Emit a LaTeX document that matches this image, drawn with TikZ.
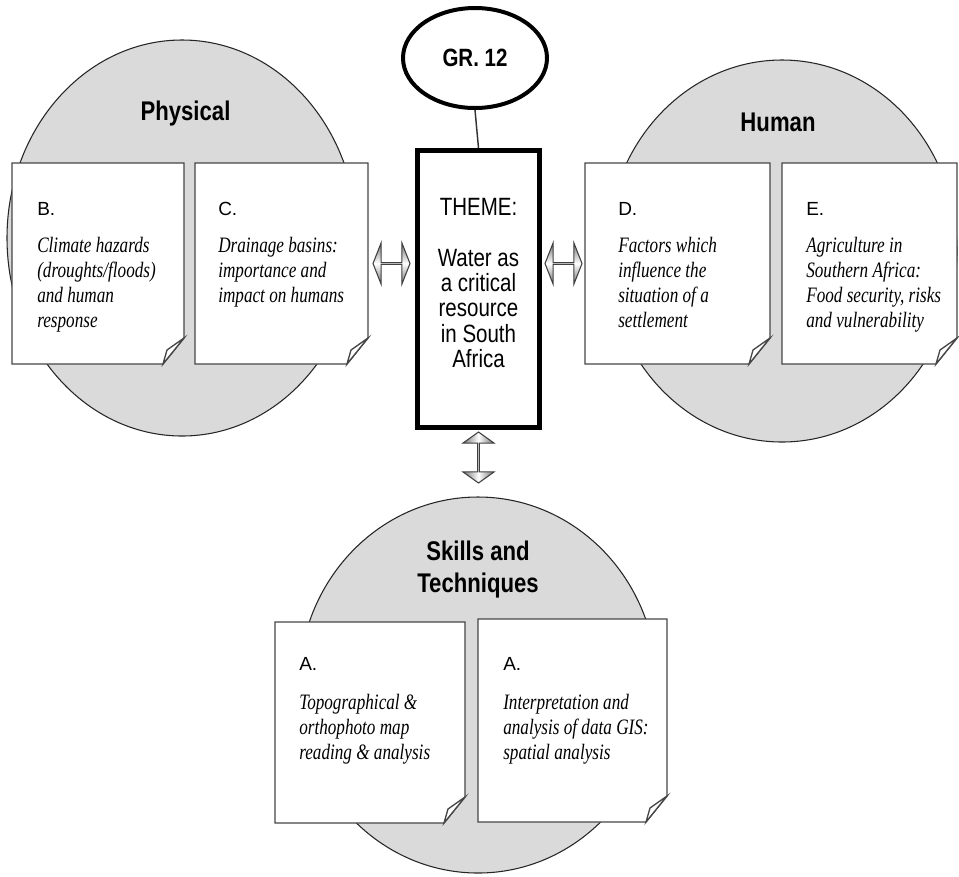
\documentclass[tikz,border=0pt]{standalone}
\usepackage{fontspec}
\newfontfamily\sansN[FakeStretch=0.82]{Liberation Sans}
\newfontfamily\sansR{Liberation Sans}
\newfontfamily\serifN[FakeStretch=0.78]{Liberation Serif}
\usetikzlibrary{shapes.geometric,shapes.arrows,calc}
\definecolor{discgray}{RGB}{218,218,218}
\definecolor{pageline}{RGB}{70,70,70}

% sheet of paper with a folded bottom-right corner, drawn over a named rectangle node
\newcommand\foldpage[1]{%
  \draw[pageedge] (#1.north west) -- (#1.north east) -- ($(#1.south east)+(0,-26)$)
    -- ($(#1.south east)+(-21,0)$) -- (#1.south west) -- cycle;
  \draw[pageedge] ($(#1.south east)+(0,-26)$) -- ($(#1.south east)+(-17,-14)$)
    -- ($(#1.south east)+(-21,0)$) -- cycle;}

\begin{document}
\begin{tikzpicture}[x=0.75pt,y=-0.75pt,
  disc/.style={ellipse, draw=black!85, line width=0.8pt, fill=discgray, inner sep=0pt},
  pagearea/.style 2 args={rectangle, inner sep=0pt, outer sep=0pt,
    minimum width=#1, minimum height=#2},
  pageedge/.style={draw=pageline, line width=1pt, fill=white, line join=miter},
  grouptitle/.style={font=\sansN\bfseries\fontsize{20.25pt}{24pt}\selectfont,
    inner sep=0pt, align=center},
  boxlabel/.style={font=\sansR\fontsize{14.25pt}{17pt}\selectfont, inner sep=0pt, anchor=base west},
  boxtext/.style={font=\serifN\itshape\fontsize{16.5pt}{18.75pt}\selectfont,
    inner sep=0pt, align=left, anchor=north west},
  themebox/.style={rectangle, draw=black, line width=3.75pt, fill=white, inner sep=0pt,
    minimum width=91.5pt, minimum height=207.75pt},
  themetext/.style={font=\sansN\fontsize{18.75pt}{18.94pt}\selectfont, inner sep=0pt,
    align=center, text=black},
  gradebubble/.style={ellipse, draw=black, line width=3pt, fill=white, inner sep=0pt,
    minimum width=108pt, minimum height=75pt,
    font=\sansN\bfseries\fontsize{18.75pt}{22pt}\selectfont},
  hlink/.style={double arrow, draw=black!75, line width=0.8pt, inner sep=0pt,
    minimum width=30.75pt, minimum height=27.75pt, double arrow head extend=8.25pt,
    double arrow tip angle=137, double arrow head indent=0pt,
    top color=black!55, bottom color=black!55, middle color=white},
  vlink/.style={double arrow, rotate=90, draw=black!75, line width=0.8pt, inner sep=0pt,
    minimum width=23.25pt, minimum height=38.25pt, double arrow head extend=6.75pt,
    double arrow tip angle=109, double arrow head indent=0pt,
    left color=black!55, right color=black!55, middle color=white}]

\useasboundingbox (0,0) rectangle (959,876);

% grey group discs
\node[disc, minimum width=262.5pt, minimum height=297pt] (physical) at (182,238) {};
\node[disc, minimum width=262.5pt, minimum height=286.5pt] (human) at (782,251) {};
\node[disc, minimum width=268.5pt, minimum height=282pt] (skills) at (478,685) {};

% group titles
\node[grouptitle, anchor=base] (physicalT) at (185.5,120) {Physical};
\node[grouptitle, anchor=base] (humanT) at (778,131) {Human};
\node[grouptitle, anchor=north] (skillsT) at (478,537.6) {\strut Skills and\\Techniques};

% topic sheets
\node[pagearea={129pt}{150.75pt}] (B) at (98,263.5) {};
\node[pagearea={129.75pt}{150.75pt}] (C) at (281.5,263.5) {};
\node[pagearea={138.75pt}{150.75pt}] (D) at (677.5,263.5) {};
\node[pagearea={131.25pt}{150.75pt}] (E) at (869.5,263.5) {};
\node[pagearea={142.5pt}{150.75pt}] (A1) at (370,722.5) {};
\node[pagearea={141.75pt}{152.25pt}] (A2) at (572.5,720.5) {};
\foldpage{B}\foldpage{C}\foldpage{D}\foldpage{E}\foldpage{A1}\foldpage{A2}

\node[boxlabel] (Blab) at (37,215) {B.};
\node[boxtext] (Btxt) at (37,234.5) {\strut Climate hazards\\(droughts/floods)\\and human\\response};
\node[boxlabel] (Clab) at (218,215) {C.};
\node[boxtext] (Ctxt) at (218,234.5) {\strut Drainage basins:\\importance and\\impact on humans};
\node[boxlabel] (Dlab) at (618,215) {D.};
\node[boxtext] (Dtxt) at (618,234.5) {\strut Factors which\\influence the\\situation of a\\settlement};
\node[boxlabel] (Elab) at (806,215) {E.};
\node[boxtext] (Etxt) at (806,234.5) {\strut Agriculture in\\Southern Africa:\\Food security, risks\\and vulnerability};
\node[boxlabel] (A1lab) at (299,670) {A.};
\node[boxtext] (A1txt) at (299,691.5) {\strut Topographical \&\\orthophoto map\\reading \& analysis};
\node[boxlabel] (A2lab) at (503,670) {A.};
\node[boxtext] (A2txt) at (503,691.5) {\strut Interpretation and\\analysis of data GIS:\\spatial analysis};

% central theme and grade
\node[themebox] (theme) at (478.5,289) {};
\node[themetext, anchor=north] (themetxt) at (478.5,198) {\strut THEME:\\[18.94pt]Water as\\a critical\\resource\\in South\\Africa};
\node[gradebubble] (grade) at (475,58) {GR. 12};
\draw[line width=1.1pt, black!80] (grade.south) -- (theme.north);

% two-way links between the theme and the groups
\node[hlink] (linkL) at ($(C.east)!0.5!(C.east -| theme.west)$) {};
\node[hlink] (linkR) at ($(D.west -| theme.east)!0.5!(D.west)$) {};
\node[vlink] (linkS) at ($(theme.south)+(0,27.5)$) {};
\end{tikzpicture}
\end{document}
